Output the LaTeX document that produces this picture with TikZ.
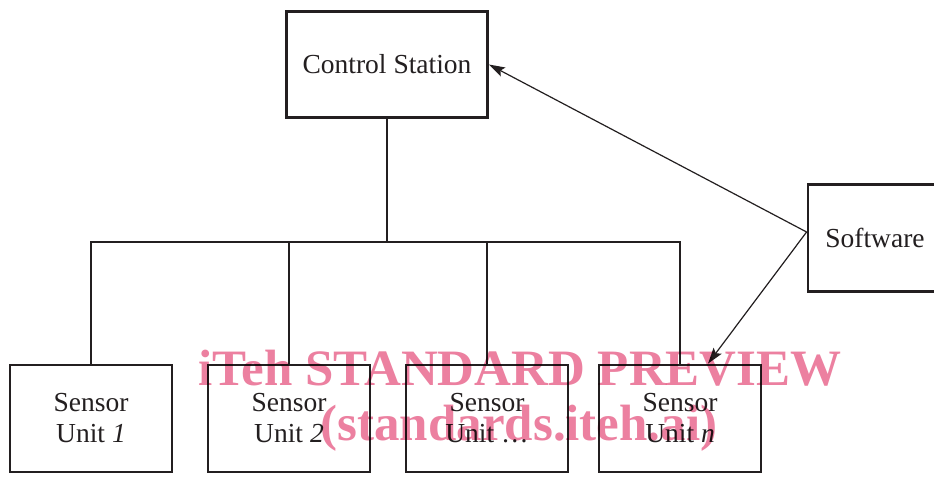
\documentclass[tikz,border=0pt]{standalone}
\usepackage{fontspec}
\setmainfont{Liberation Serif}
\usetikzlibrary{arrows.meta,calc}
\definecolor{ink}{RGB}{35,31,32}
\definecolor{wmpink}{RGB}{236,128,160}
\tikzset{
  unitbox/.style={draw=ink, line width=2.8pt, minimum width=162pt, minimum height=107pt,
    align=center, inner sep=0pt, font=\fontsize{27.5}{31}\selectfont, text=ink},
  wire/.style={draw=ink, line width=1.2pt},
  arrowwire/.style={wire, -{Stealth[length=16pt,width=10pt,inset=3pt]}},
  wmark/.style={text=wmpink, font=\fontsize{51}{51}\selectfont\bfseries, inner sep=0pt, anchor=base}
}
\begin{document}
\begin{tikzpicture}[x=1pt, y=-1pt]
  \useasboundingbox (0,0) rectangle (934,477);
  \clip (0,0) rectangle (934,477);
  \fill[white] (0,0) rectangle (934,477);

  % boxes
  \node[unitbox, minimum width=201pt, minimum height=106pt] (cs) at (387,64.5) {Control Station};
  \node[unitbox, minimum width=134pt] (sw) at (875,238) {Software};
  \node[unitbox] (s1) at (91,418.5)  {Sensor\\Unit \textit{1}};
  \node[unitbox] (s2) at (289,418.5) {Sensor\\Unit \textit{2}};
  \node[unitbox] (s3) at (487,418.5) {Sensor\\Unit …};
  \node[unitbox] (s4) at (680,418.5) {Sensor\\Unit \textit{n}};

  % distribution tree from the control station
  \coordinate (bus) at (387,242);
  \draw[wire] (cs.south) -- (bus);
  \draw[wire] (s1.north) -- (s1.north |- bus) -- (s4.north |- bus) -- (s4.north);
  \draw[wire] (s2.north) -- (s2.north |- bus);
  \draw[wire] (s3.north) -- (s3.north |- bus);

  % software links
  \coordinate (swport) at ($(sw.west)+(0,-6)$);
  \draw[arrowwire] (swport) -- (cs.east);
  \draw[arrowwire] (swport) -- ($(s4.north)+(28,0)$);

  % watermark
  \begin{scope}[blend mode=multiply]
    \node[wmark] (wm1) at (520,385) {iTeh STANDARD PREVIEW};
    \node[wmark] (wm2) at (519,440) {(standards.iteh.ai)};
  \end{scope}
\end{tikzpicture}
\end{document}
